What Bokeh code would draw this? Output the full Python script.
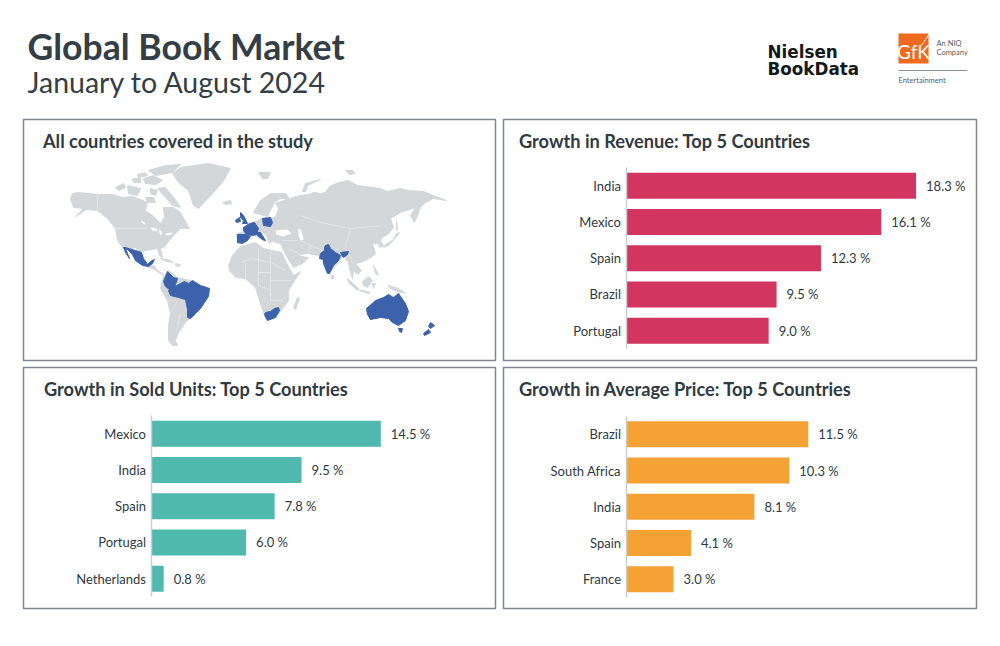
from bokeh.plotting import figure
from bokeh.layouts import column, row
from bokeh.models import Range1d, FixedTicker
from bokeh.core.properties import value
from bokeh.embed import file_html
from bokeh.resources import INLINE

# ---------- chart data ----------
REV_COUNTRIES = ["India", "Mexico", "Spain", "Brazil", "Portugal"]
REV_VALUES = [18.3, 16.1, 12.3, 9.5, 9.0]
UNIT_COUNTRIES = ["Mexico", "India", "Spain", "Portugal", "Netherlands"]
UNIT_VALUES = [14.5, 9.5, 7.8, 6.0, 0.8]
PRICE_COUNTRIES = ["Brazil", "South Africa", "India", "Spain", "France"]
PRICE_VALUES = [11.5, 10.3, 8.1, 4.1, 3.0]

# ---------- map outlines ----------
NORTH_AMERICA = [(70,198),(72,193),(78,192),(88,193),(97,194),(112,194),(122,197),(132,196),(140,199),(147,202),(145,210),(152,215),(160,223),(164,217),(163,207),(173,207),(180,212),(186,223),(189,228),(180,228),(173,235),(169,240),(163,247),(160,248),(162,257),(159,255),(157,248),(145,250),(139,252),(135,247),(128,249),(122,247),(117,240),(115,228),(107,218),(97,210),(86,209),(75,216),(83,208),(73,207)]
ARCTIC_A = [(115,187),(123,183),(125,187),(118,190)]
ARCTIC_B = [(127,185),(140,188),(137,195),(128,193)]
ARCTIC_C = [(143,178),(153,175),(162,180),(155,184),(145,183)]
ARCTIC_D = [(137,174),(145,172),(147,175),(138,177)]
ELLESMERE = [(148,170),(165,165),(180,164),(172,172),(155,175)]
BAFFIN = [(157,188),(165,187),(177,202),(180,207),(172,205),(165,197)]
ARCTIC_E = [(132,178),(140,178),(140,182),(133,182)]
ARCTIC_F = [(150,188),(157,190),(155,195),(150,193)]
ARCTIC_G = [(145,197),(153,197),(155,202),(147,202)]
GREENLAND = [(172,173),(180,167),(208,163),(230,168),(222,182),(212,193),(198,208),(193,205),(188,190),(178,182)]
ICELAND = [(222,202),(230,200),(231,203),(225,204)]
CENTRAL_AMERICA = [(147,266),(153,265),(157,270),(163,274),(160,273),(152,268)]
CUBA = [(160,258),(167,259),(173,262),(166,261)]
HISPANIOLA = [(175,263),(180,264),(179,266),(175,265)]
SOUTH_AMERICA = [(163,276),(168,270),(177,277),(190,280),(200,285),(209,288),(205,300),(198,307),(192,317),(187,320),(185,322),(178,332),(175,340),(177,345),(172,345),(168,340),(168,325),(170,313),(167,300),(160,288),(161,283)]
EURASIA = [(243,228),(252,222),(258,220),(263,217),(267,218),(275,217),(278,208),(275,203),(283,200),(292,197),(300,195),(308,194),(313,192),(320,193),(325,192),(329,186),(338,182),(348,180),(357,185),(365,186),(380,188),(387,191),(400,188),(408,190),(423,191),(433,195),(446,200),(433,198),(425,202),(420,207),(414,222),(410,215),(415,207),(400,212),(390,218),(393,227),(388,233),(382,237),(380,240),(383,245),(380,247),(377,243),(372,243),(375,253),(372,256),(363,261),(355,263),(361,270),(357,274),(353,270),(352,278),(350,272),(348,262),(343,255),(338,262),(328,273),(323,262),(319,255),(307,253),(300,254),(296,250),(300,256),(308,257),(302,263),(293,267),(284,252),(280,243),(272,241),(269,243),(266,236),(262,231),(260,232),(265,241),(262,240),(255,235),(252,232),(248,235),(247,238),(244,242),(237,243),(236,233),(243,231)]
SCANDINAVIA = [(253,212),(260,200),(270,193),(285,193),(289,198),(280,198),(274,202),(270,210),(267,216),(260,214)]
NOVAYA_ZEMLYA = [(302,191),(305,183),(320,179),(307,185),(305,191)]
SVALBARD = [(258,172),(270,172),(267,178),(262,178)]
SIBERIAN_ISLE = [(345,170),(352,170),(355,173),(349,174)]
JAPAN = [(399,232),(397,235),(388,245),(383,247),(384,245),(393,239),(396,233)]
SAKHALIN = [(396,220),(397,228),(396,230)]
SRI_LANKA = [(331,275),(333,275),(333,278),(331,278)]
AFRICA = [(228,265),(232,255),(240,246),(255,242),(263,248),(281,252),(289,268),(293,275),(300,271),(288,290),(288,300),(277,315),(265,318),(258,297),(255,287),(245,278),(235,277),(229,270)]
MADAGASCAR = [(293,307),(297,297),(299,298),(295,309)]
SUMATRA = [(347,278),(358,288),(357,290),(348,282)]
JAVA = [(358,289),(370,292),(368,293),(359,290)]
BORNEO = [(362,281),(368,276),(372,280),(367,287),(363,285)]
SULAWESI = [(372,283),(375,283),(373,288)]
NEW_GUINEA = [(388,285),(398,288),(405,293),(397,291),(390,288)]
PHILIPPINES = [(373,265),(377,272),(378,275),(375,273)]
GREY_LAND = [NORTH_AMERICA, ARCTIC_A, ARCTIC_B, ARCTIC_C, ARCTIC_D, ELLESMERE, BAFFIN, ARCTIC_E, ARCTIC_F, ARCTIC_G, GREENLAND, ICELAND, CENTRAL_AMERICA, CUBA, HISPANIOLA, SOUTH_AMERICA, EURASIA, SCANDINAVIA, NOVAYA_ZEMLYA, SVALBARD, SIBERIAN_ISLE, JAPAN, SAKHALIN, SRI_LANKA, AFRICA, MADAGASCAR, SUMATRA, JAVA, BORNEO, SULAWESI, NEW_GUINEA, PHILIPPINES]

BLACK_SEA = [(275,230),(287,229),(291,233),(282,236),(276,234)]
CASPIAN = [(298,228),(301,230),(303,239),(300,240),(298,235)]
LAKE_SUPERIOR = [(150,227),(156,228),(157,231),(152,230)]
LAKE_MICHIGAN = [(158,228),(162,232),(160,235)]
LAKE_ERIE = [(165,233),(172,232),(171,234),(166,235)]
LAKE_WINNIPEG = [(141,220),(145,223),(144,224),(141,222)]
WATER = [BLACK_SEA, CASPIAN, LAKE_SUPERIOR, LAKE_MICHIGAN, LAKE_ERIE, LAKE_WINNIPEG]

MEXICO = [(125,247),(128,248),(135,250),(141,252),(143,258),(147,264),(150,261),(154,259),(152,263),(148,266),(142,265),(135,260),(132,254),(128,250)]
BAJA = [(123,247),(125,247),(127,253),(129,258),(125,252)]
COLOMBIA = [(163,281),(167,271),(173,277),(177,278),(175,284),(173,292),(170,290),(165,286)]
BRAZIL = [(168,290),(173,287),(180,283),(184,281),(188,283),(192,280),(200,285),(209,288),(208,296),(204,302),(200,308),(195,313),(190,318),(187,317),(187,309),(185,299),(178,297),(170,295)]
FRANCE = [(243,227),(249,223),(254,222),(258,228),(256,234),(252,235),(246,234),(243,230)]
SPAIN = [(237,234),(246,234),(250,236),(247,240),(242,243),(237,242)]
UK = [(240,212),(243,215),(247,223),(242,223),(243,220),(240,217)]
IRELAND = [(235,220),(239,217),(240,221),(236,222)]
POLAND = [(262,218),(270,217),(272,222),(270,226),(263,225)]
ITALY = [(256,232),(260,232),(265,240),(262,239),(257,235)]
INDIA = [(325,245),(328,244),(330,248),(335,252),(340,255),(338,260),(333,265),(329,273),(327,273),(323,263),(323,259),(319,258),(320,253),(324,250),(324,247)]
INDIA_NE = [(340,252),(348,251),(347,254),(343,257),(342,256)]
SOUTH_AFRICA = [(265,312),(270,311),(274,308),(278,307),(279,310),(275,317),(267,320),(264,314)]
AUSTRALIA = [(366,308),(375,300),(383,297),(388,294),(393,297),(398,293),(405,303),(408,311),(405,320),(398,325),(392,322),(388,318),(380,317),(370,319),(367,314)]
TASMANIA = [(398,328),(402,328),(401,332),(399,331)]
NZ_NORTH = [(428,326),(430,322),(434,325),(430,328)]
NZ_SOUTH = [(423,333),(428,329),(430,332),(424,335)]
BLUE_LAND = [MEXICO, BAJA, COLOMBIA, BRAZIL, FRANCE, SPAIN, UK, IRELAND, POLAND, ITALY, INDIA, INDIA_NE, SOUTH_AFRICA, AUSTRALIA, TASMANIA, NZ_NORTH, NZ_SOUTH]

BORDERS = [
    [(115,228),(147,228)], [(97,194),(97,210)],
    [(240,262),(252,258),(270,262),(285,270)], [(258,248),(258,285),(270,290)], [(270,248),(270,300),(282,300)],
    [(245,262),(245,278)], [(270,280),(290,280)], [(258,272),(270,272)],
    [(300,215),(320,222),(350,228),(380,225)], [(300,240),(310,245),(322,250)], [(350,228),(345,245)],
    [(282,240),(297,240)], [(288,248),(300,254)], [(310,245),(307,253)], [(345,245),(352,262)],
    [(170,313),(177,300)], [(176,330),(180,313)],
]

FONT = "Lato"
INK = "#2f3a42"
BORDER = "#7f8791"
PAD = 2
PX_PER_UNIT = 15.85
TITLE_DROP = 21


def panel(width, height, x_range, y_range, title, title_x, title_y):
    p = figure(width=width, height=height, x_range=x_range, y_range=y_range,
               output_backend="svg", toolbar_location=None,
               min_border_left=PAD, min_border_right=PAD, min_border_top=PAD, min_border_bottom=PAD,
               background_fill_color="white", border_fill_color="white",
               outline_line_color=BORDER, outline_line_width=1.5)
    p.grid.visible = False
    p.xaxis.visible = False
    p.yaxis.visible = False
    p.text(x=[title_x], y=[title_y], text=[title], text_font=value(FONT), text_font_style="bold",
           text_font_size="18.2px", text_color=INK, text_baseline="alphabetic")
    return p


def bar_panel(width, height, title, title_inset, names, values, color, zero_px, top_px):
    # zero_px, top_px: where 0 and the first bar fall inside the panel frame
    inner_w, inner_h = width - 2 * PAD, height - 2 * PAD
    step = 36.25
    xr = Range1d(-zero_px / PX_PER_UNIT, (inner_w - zero_px) / PX_PER_UNIT)
    yr = Range1d((inner_h - top_px) / step, -top_px / step)
    p = panel(width, height, xr, yr, title, (title_inset - zero_px) / PX_PER_UNIT, (TITLE_DROP - top_px) / step)
    ranks = list(range(len(names)))
    p.hbar(y=ranks, left=0, right=values, height=0.72, fill_color=color, line_color=None)
    p.text(x=values, y=ranks, text=[f"{v:.1f} %" for v in values], x_offset=10,
           text_font=value(FONT), text_font_size="13px", text_color=INK, text_baseline="middle")
    ax = p.yaxis[0]
    ax.visible = True
    ax.fixed_location = 0
    ax.ticker = FixedTicker(ticks=ranks)
    ax.major_label_overrides = {i: n for i, n in enumerate(names)}
    ax.bounds = (-0.5, len(names) - 0.5)
    ax.axis_line_color = "#c9cdd1"
    ax.axis_line_width = 1.5
    ax.major_tick_line_color = None
    ax.minor_tick_line_color = None
    ax.major_label_standoff = -1
    ax.major_label_text_font = FONT
    ax.major_label_text_font_size = "13px"
    ax.major_label_text_color = INK
    return p


# ---------- header ----------
head = figure(width=992, height=117, x_range=Range1d(0, 992), y_range=Range1d(117, 0),
              output_backend="svg", toolbar_location=None, min_border=0,
              background_fill_color="white", border_fill_color="white", outline_line_color=None)
head.grid.visible = False
head.axis.visible = False


def htext(x, y, t, size, color=INK, style="normal", font=FONT, align="left"):
    head.text(x=[x], y=[y], text=[t], text_font=value(font), text_font_size=size, text_color=color,
              text_font_style=style, text_baseline="alphabetic", text_align=align)


htext(27, 46, "Global Book Market", "35.6px", "#333e46", "bold")
htext(27, 81, "January to August 2024", "28.5px", "#333e46")
htext(767, 51, "Nielsen", "16.8px", "#15181b", "bold", "DejaVu Sans")
htext(767, 68, "BookData", "16.8px", "#15181b", "bold", "DejaVu Sans")
head.quad(left=[898], right=[928], top=[33], bottom=[63], fill_color="#ee6a1f", line_color=None)
htext(913, 51, "GfK", "19px", "white", "normal", "Lato", "center")
head.segment(x0=[929], y0=[33], x1=[921], y1=[45], line_color="white", line_width=1)
htext(936, 43, "An NIQ", "7.5px", "#555d64")
htext(936, 52, "Company", "7.5px", "#555d64")
head.segment(x0=[898], y0=[70], x1=[967], y1=[70], line_color="#8a9096", line_width=1)
htext(898, 80, "Entertainment", "7.5px", "#555d64")

# ---------- map panel ----------
map_p = panel(476, 245, Range1d(23, 495), Range1d(360, 119), "All countries covered in the study", 42.5, 119 + TITLE_DROP)


def patch_data(shapes):
    return [[c[0] for c in s] for s in shapes], [[c[1] for c in s] for s in shapes]


gx, gy = patch_data(GREY_LAND)
map_p.patches(gx, gy, fill_color="#d3d7da", line_color="#d3d7da", line_width=1)
bx0, by0 = patch_data(BORDERS)
map_p.multi_line(bx0, by0, line_color="#e9ebed", line_width=0.7)
wx, wy = patch_data(WATER)
map_p.patches(wx, wy, fill_color="white", line_color=None)
bx, by = patch_data(BLUE_LAND)
map_p.patches(bx, by, fill_color="#3c62ab", line_color="#3c62ab", line_width=1)

# ---------- bar panels ----------
rev_p = bar_panel(477, 245, "Growth in Revenue: Top 5 Countries", 15.5, REV_COUNTRIES, REV_VALUES, "#d2355f", 122.5, 66.2)
unit_p = bar_panel(476, 245, "Growth in Sold Units: Top 5 Countries", 20.5, UNIT_COUNTRIES, UNIT_VALUES, "#4fb9ae", 127.5, 66.2)
price_p = bar_panel(477, 245, "Growth in Average Price: Top 5 Countries", 15.5, PRICE_COUNTRIES, PRICE_VALUES, "#f4a234", 122.5, 66.8)

map_p.margin = (0, 0, 0, 21)
rev_p.margin = (0, 0, 0, 4)
unit_p.margin = (3, 0, 0, 21)
price_p.margin = (3, 0, 0, 4)
head.margin = (0, 0, 0, 0)

page = column(head, row(map_p, rev_p, spacing=0), row(unit_p, price_p, spacing=0), spacing=0)
open("out.html", "w").write(file_html(page, INLINE))
